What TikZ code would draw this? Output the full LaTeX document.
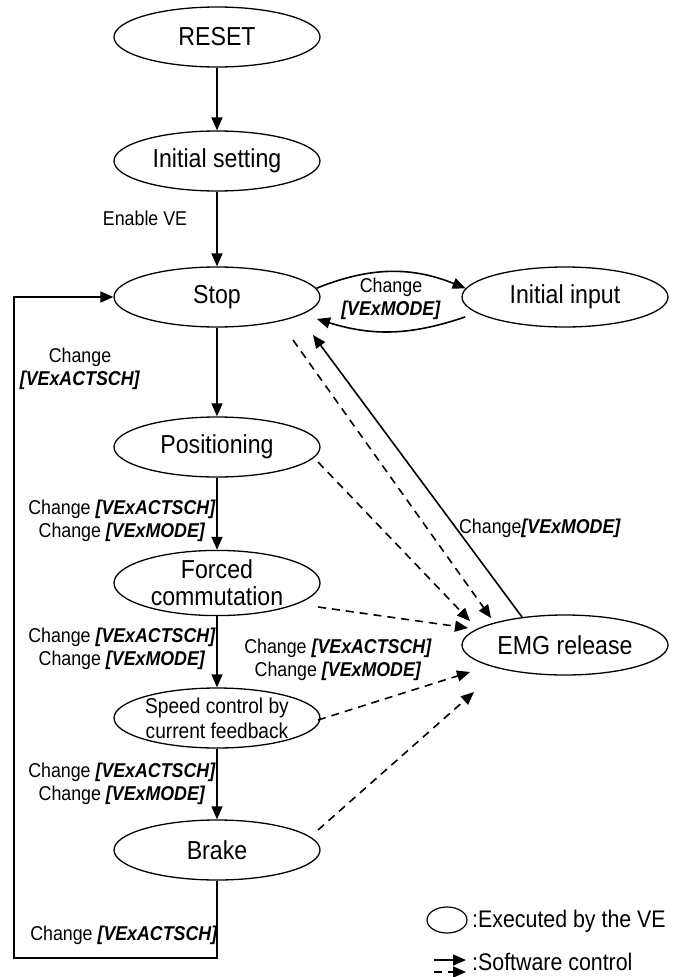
\documentclass[tikz,border=0pt]{standalone}
\usepackage{fontspec}
\setmainfont{Liberation Sans}[FakeStretch=0.89]
\usetikzlibrary{shapes.geometric,arrows.meta,calc}

\tikzset{
  state/.style={draw, ellipse, line width=1.3pt, minimum width=206pt,
    minimum height=60pt, inner sep=0pt, font=\fontsize{26}{27}\selectfont,
    align=center},
  arr/.style={line width=1.6pt, -{Triangle[length=13pt,width=11pt]}},
  darr/.style={arr, dash pattern=on 8pt off 6pt},
  lbl/.style={font=\fontsize{20}{23}\selectfont, align=center, inner sep=0pt},
  legtext/.style={font=\fontsize{24}{26}\selectfont, inner sep=0pt, anchor=west},
}
\newcommand{\reg}[1]{\textbf{\textit{#1}}}

\begin{document}
\begin{tikzpicture}[x=1pt, y=-1pt]
  \useasboundingbox (0,0) rectangle (672,977);

  % states
  \node[state] (reset)  at (217,37)  {RESET};
  \node[state] (initset) at (217,161) {Initial setting};
  \node[state] (stop)   at (217,297) {Stop};
  \node[state] (initin) at (565,297) {Initial input};
  \node[state] (posit)  at (217,447) {Positioning};
  \node[state] (forced) at (217,583) {Forced\\commutation};
  \node[state, font=\fontsize{21.5}{25}\selectfont] (speed) at (217,718) {Speed control by\\current feedback};
  \node[state] (brake)  at (217,850) {Brake};
  \node[state] (emg)    at (565,645) {EMG release};

  % main sequence
  \draw[arr] (reset) -- (initset);
  \draw[arr] (initset) -- (stop);
  \draw[arr] (stop) -- (posit);
  \draw[arr] (posit) -- (forced);
  \draw[arr] (forced) -- (speed);
  \draw[arr] (speed) -- (brake);

  % return loop from Brake back to Stop
  \coordinate (loopcorner) at (14,958);
  \draw[arr] (brake.south) |- (loopcorner) |- (stop.west);

  % Stop <-> Initial input
  \draw[arr] (stop.5) to[bend left=22] (initin.175);
  \draw[arr] ($(initin.center)+(-100,20)$) to[bend left=18] ($(stop.center)+(100,22)$);

  % EMG release
  \draw[arr] ($(emg.center)+(-43,-28)$) -- ($(stop.center)+(96,38)$);
  \draw[darr] ($(stop.center)+(76,43)$) -- ($(emg.center)+(-74,-27)$);
  \draw[darr] ($(posit.center)+(101,15)$) -- ($(emg.center)+(-95,-24)$);
  \draw[darr] ($(forced.center)+(101,24)$) -- ($(emg.center)+(-97,-17)$);
  \draw[darr] ($(speed.center)+(101,2)$) -- ($(emg.center)+(-95,27)$);
  \draw[darr] ($(brake.center)+(101,-20)$) -- ($(emg.center)+(-91,47)$);

  % transition labels
  \node[lbl] (l0) at (145,218) {Enable VE};
  \node[lbl] (l1) at (391,299) {Change\\\reg{[VExMODE]}};
  \node[lbl] (l2) at (80,369) {Change\\\reg{[VExACTSCH]}};
  \node[lbl] (l3) at (122,521) {Change \reg{[VExACTSCH]}\\Change \reg{[VExMODE]}};
  \node[lbl] (l4) at (122,649) {Change \reg{[VExACTSCH]}\\Change \reg{[VExMODE]}};
  \node[lbl] (l5) at (122,784) {Change \reg{[VExACTSCH]}\\Change \reg{[VExMODE]}};
  \node[lbl] (l6) at (338,660) {Change \reg{[VExACTSCH]}\\Change \reg{[VExMODE]}};
  \node[lbl] (l7) at (540,528) {Change\reg{[VExMODE]}};
  \node[lbl] (l8) at (124,935) {Change \reg{[VExACTSCH]}};

  % legend
  \node[draw, ellipse, line width=1.2pt, minimum width=40pt, minimum height=26pt] (legell) at (447,920) {};
  \node[legtext] (legtxt1) at (472,921) {:Executed by the VE};
  \coordinate (lsa) at (434,960);
  \coordinate (lsb) at (466,960);
  \coordinate (lda) at (434,972);
  \coordinate (ldb) at (466,972);
  \draw[arr] (lsa) -- (lsb);
  \draw[darr] (lda) -- (ldb);
  \node[legtext] (legtxt2) at (472,962) {:Software control};
\end{tikzpicture}
\end{document}
